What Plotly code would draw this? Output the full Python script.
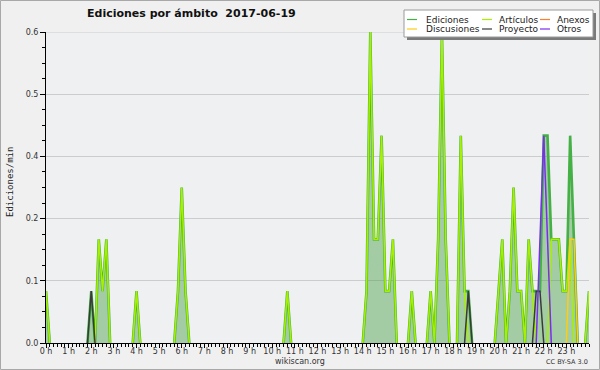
import plotly.graph_objects as go

# ---------------- data (edits per minute, 10-minute slots) ----------------
slot_labels = [f"{(i * 10) // 60:02d}:{(i * 10) % 60:02d}" for i in range(145)]
slot_hours = [i / 6 for i in range(145)]

hour_ticks = list(range(24))
hour_labels = [f"{h} h" for h in hour_ticks]

y_tick_values = [0, 0.12, 0.24, 0.36, 0.48, 0.6]
y_tick_labels = ["0.0", "0.1", "0.2", "0.4", "0.5", "0.6"]

ediciones = {
    "00:00": 0.1, "02:00": 0.1, "02:20": 0.2, "02:30": 0.1, "02:40": 0.2,
    "04:00": 0.1, "05:50": 0.1, "06:00": 0.3, "06:10": 0.1, "10:40": 0.1,
    "14:10": 0.1, "14:20": 0.6, "14:30": 0.2, "14:40": 0.2, "14:50": 0.4,
    "15:00": 0.1, "15:10": 0.1, "15:20": 0.2, "16:10": 0.1, "17:00": 0.1,
    "17:20": 0.2, "17:30": 0.6, "17:40": 0.2, "18:20": 0.4, "18:30": 0.1,
    "18:40": 0.1, "20:00": 0.1, "20:10": 0.2, "20:30": 0.1, "20:40": 0.3,
    "20:50": 0.1, "21:00": 0.1, "21:20": 0.2, "21:30": 0.1, "21:40": 0.1,
    "21:50": 0.1, "22:00": 0.4, "22:10": 0.4, "22:20": 0.2, "22:30": 0.2,
    "22:40": 0.2, "22:50": 0.1, "23:00": 0.1, "23:10": 0.4, "23:20": 0.2,
    "24:00": 0.1,
}
articulos = {
    "00:00": 0.1, "02:20": 0.2, "02:30": 0.1, "02:40": 0.2,
    "04:00": 0.1, "05:50": 0.1, "06:00": 0.3, "06:10": 0.1, "10:40": 0.1,
    "14:10": 0.1, "14:20": 0.6, "14:30": 0.2, "14:40": 0.2, "14:50": 0.4,
    "15:00": 0.1, "15:10": 0.1, "15:20": 0.2, "16:10": 0.1, "17:00": 0.1,
    "17:20": 0.2, "17:30": 0.6, "17:40": 0.2, "18:20": 0.4, "18:30": 0.1,
    "20:00": 0.1, "20:10": 0.2, "20:30": 0.1, "20:40": 0.3,
    "20:50": 0.1, "21:00": 0.1, "21:20": 0.2, "21:30": 0.1,
    "22:20": 0.2, "22:30": 0.2, "22:40": 0.2, "22:50": 0.1, "23:00": 0.1,
    "23:10": 0.2, "24:00": 0.1,
}
anexos = {}
discusiones = {"23:10": 0.2, "23:20": 0.2}
proyecto = {"02:00": 0.1, "18:40": 0.1, "21:40": 0.1, "21:50": 0.1}
otros = {"21:50": 0.2, "22:00": 0.4, "22:10": 0.2}

series = [
    ("Ediciones", ediciones, "#45b045"),
    ("Artículos", articulos, "#a6f000"),
    ("Anexos", anexos, "#ff7f2a"),
    ("Discusiones", discusiones, "#ffcc11"),
    ("Proyecto", proyecto, "#3a3a3a"),
    ("Otros", otros, "#7b2cf0"),
]

# ---------------- geometry helpers (pixel -> paper) ----------------
W, H = 600, 370
L, R, T, B = 46, 11, 32, 27
PW, PH = W - L - R, H - T - B


def px(x):
    return (x - L) / PW


def py(y):
    return (H - B - y) / PH


def hide_flat_zeros(vals):
    """Keep zeros only where they bound a non-zero value, so that idle
    stretches are not drawn on top of the x axis."""
    out = []
    n = len(vals)
    for i, v in enumerate(vals):
        if v != 0:
            out.append(v)
        else:
            left = vals[i - 1] if i > 0 else 0
            right = vals[i + 1] if i < n - 1 else 0
            out.append(0.0 if (left != 0 or right != 0) else None)
    return out


fig = go.Figure()

for name, vals, color in series:
    yv = [vals.get(s, 0.0) for s in slot_labels]
    yd = hide_flat_zeros(yv)
    if name == "Ediciones":
        fig.add_trace(go.Scatter(
            x=slot_hours, y=yd, mode="lines", name=name,
            line=dict(color=color, width=2.6), connectgaps=False,
            fill="tozeroy", fillcolor="rgba(70,160,70,0.45)",
            showlegend=False, hoverinfo="skip"))
    else:
        fig.add_trace(go.Scatter(
            x=slot_hours, y=yd, mode="lines", name=name, connectgaps=False,
            line=dict(color=color, width=1.6 if name == "Artículos" else 1.5),
            showlegend=False, hoverinfo="skip"))

shapes = []
annotations = []

# outer border
shapes.append(dict(type="rect", xref="paper", yref="paper",
                   x0=px(0.5), x1=px(W - 0.5), y0=py(H - 0.5), y1=py(0.5),
                   line=dict(color="#a8a8a8", width=1), fillcolor="rgba(0,0,0,0)",
                   layer="below"))
# top grid line (0.6)
shapes.append(dict(type="line", xref="paper", yref="y", x0=0, x1=1,
                   y0=y_tick_values[-1], y1=y_tick_values[-1],
                   line=dict(color="#cccccc", width=1), layer="below"))

# legend box (shadow + box)
shapes.append(dict(type="rect", xref="paper", yref="paper",
                   x0=px(407), x1=px(596), y0=py(40), y1=py(13),
                   line=dict(width=0), fillcolor="#7a7a7a"))
shapes.append(dict(type="rect", xref="paper", yref="paper",
                   x0=px(404), x1=px(593), y0=py(37), y1=py(10),
                   line=dict(color="#9a9a9a", width=1), fillcolor="#ffffff"))

legend_cols = [(407, 424), (482, 497), (540, 555)]
legend_rows = [19.5, 29]
legend_order = [["Ediciones", "Artículos", "Anexos"],
                ["Discusiones", "Proyecto", "Otros"]]
color_of = {n: c for n, _, c in series}
for r, row in enumerate(legend_order):
    for c, name in enumerate(row):
        lx, tx = legend_cols[c]
        yy = legend_rows[r]
        shapes.append(dict(type="line", xref="paper", yref="paper",
                           x0=px(lx), x1=px(lx + 10), y0=py(yy), y1=py(yy),
                           line=dict(color=color_of[name], width=1.2)))
        annotations.append(dict(xref="paper", yref="paper", x=px(tx), y=py(yy),
                                text=name, showarrow=False, xanchor="left",
                                yanchor="middle",
                                font=dict(family="DejaVu Sans", size=9, color="#222222")))

# title
annotations.append(dict(xref="paper", yref="paper", x=px(85), y=py(14),
                        text="<b>Ediciones por ámbito\u00a0\u00a02017-06-19</b>",
                        showarrow=False, xanchor="left", yanchor="middle",
                        font=dict(family="DejaVu Sans", size=11, color="#111111")))
# y title
annotations.append(dict(xref="paper", yref="paper", x=px(9.5), y=py(182.5),
                        text="Ediciones/min", textangle=-90, showarrow=False,
                        xanchor="center", yanchor="middle",
                        font=dict(family="DejaVu Sans Mono", size=9, color="#222222")))
# credits
annotations.append(dict(xref="paper", yref="paper", x=px(300), y=py(361),
                        text="wikiscan.org", showarrow=False,
                        xanchor="center", yanchor="middle",
                        font=dict(family="DejaVu Sans", size=8, color="#333333")))
annotations.append(dict(xref="paper", yref="paper", x=px(590), y=py(362),
                        text="CC BY-SA 3.0", showarrow=False,
                        xanchor="right", yanchor="middle",
                        font=dict(family="DejaVu Sans", size=6.5, color="#333333")))

fig.update_layout(
    width=W, height=H,
    margin=dict(l=L, r=R, t=T, b=B, pad=0),
    paper_bgcolor="#f0f0f0",
    plot_bgcolor="#eef0f2",
    showlegend=False,
    shapes=shapes,
    annotations=annotations,
    font=dict(family="DejaVu Sans", size=8, color="#333333"),
)

fig.update_xaxes(
    range=[0, 24], tickvals=hour_ticks, ticktext=hour_labels,
    showline=True, linecolor="#000000", linewidth=1,
    ticks="outside", ticklen=4, tickcolor="#000000", tickwidth=1,
    showgrid=False, zeroline=False, automargin=False,
    ticklabelstandoff=-4,
    tickfont=dict(family="DejaVu Sans", size=8, color="#333333"),
    minor=dict(dtick=1 / 6, tick0=0, ticks="outside", ticklen=3,
               tickcolor="#000000", showgrid=False),
)
fig.update_yaxes(
    range=[0, 0.6], tickvals=y_tick_values, ticktext=y_tick_labels,
    showline=True, linecolor="#000000", linewidth=1,
    ticks="outside", ticklen=5, tickcolor="#000000", tickwidth=1,
    showgrid=True, gridcolor="#cccccc", gridwidth=1, zeroline=False,
    automargin=False,
    tickfont=dict(family="DejaVu Sans", size=8, color="#333333"),
    minor=dict(dtick=0.03, tick0=0, ticks="outside", ticklen=3,
               tickcolor="#000000", showgrid=False),
)

fig.write_html("out.html", config={"displayModeBar": False},
               post_script="document.body.style.margin='0px';")
